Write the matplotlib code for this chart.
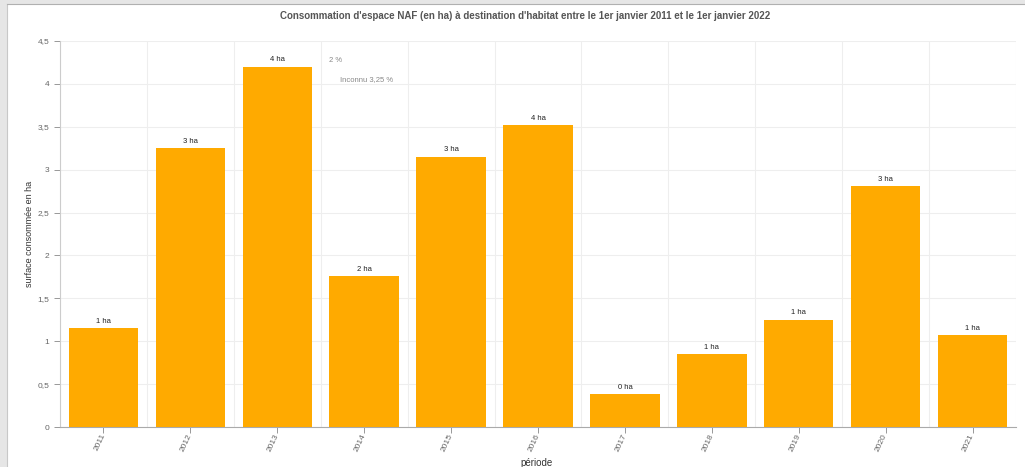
import matplotlib
matplotlib.use("Agg")
import matplotlib.pyplot as plt
from matplotlib.patches import Rectangle
import numpy as np

plt.rcParams['font.family'] = ['Liberation Sans', 'DejaVu Sans']

# data
years = ['2011', '2012', '2013', '2014', '2015', '2016', '2017', '2018', '2019', '2020', '2021']
surface = [1.15, 3.25, 4.20, 1.76, 3.15, 3.52, 0.385, 0.85, 1.25, 2.81, 1.07]
bar_labels = ['1 ha', '3 ha', '4 ha', '2 ha', '3 ha', '4 ha', '0 ha', '1 ha', '1 ha', '3 ha', '1 ha']
y_ticks = [0, 0.5, 1, 1.5, 2, 2.5, 3, 3.5, 4, 4.5]
y_tick_labels = ['0', '0,5', '1', '1,5', '2', '2,5', '3', '3,5', '4', '4,5']

fig = plt.figure(figsize=(10.25, 4.67), dpi=100)
fig.patch.set_facecolor('white')

# grey frame of the screenshot
fig.patches.append(Rectangle((0, 0), 7 / 1025, 1, transform=fig.transFigure,
                             facecolor='#e6e6e6', edgecolor='none', zorder=0))
fig.patches.append(Rectangle((0, 1 - 4 / 467), 1, 4 / 467, transform=fig.transFigure,
                             facecolor='#e6e6e6', edgecolor='none', zorder=0))
fig.add_artist(plt.Line2D([7 / 1025, 7 / 1025], [0, 1 - 4 / 467], transform=fig.transFigure,
                          color='#c8c8c8', lw=0.8))
fig.add_artist(plt.Line2D([7 / 1025, 1], [1 - 4 / 467, 1 - 4 / 467], transform=fig.transFigure,
                          color='#b0b0b0', lw=0.8))

ax = fig.add_axes([60 / 1025, 1 - 427 / 467, 956 / 1025, 386 / 467])
x = np.arange(len(years))
ax.bar(x, surface, width=0.8, color='#FFAA00', zorder=3)

for xi, v, lab in zip(x, surface, bar_labels):
    ax.text(xi, v + 0.04, lab, ha='center', va='bottom', fontsize=5.5, color='#222222', zorder=4)

ax.set_xlim(-0.5, len(years) - 0.5)
ax.set_ylim(0, 4.5)
ax.set_yticks(y_ticks)
ax.set_yticklabels(y_tick_labels)
ax.set_xticks(x)
ax.set_xticklabels(years, rotation=65, ha='right', va='center', rotation_mode='anchor')
ax.set_xticks(np.arange(-0.5, len(years)), minor=True)
ax.tick_params(axis='x', which='minor', length=0)
ax.tick_params(axis='both', which='major', labelsize=6, colors='#888888', length=4, width=0.6)
ax.tick_params(axis='x', which='major', pad=1)
for lab in ax.get_xticklabels() + ax.get_yticklabels():
    lab.set_color('#666666')

ax.grid(True, axis='y', color='#eeeeee', lw=0.8, zorder=0)
ax.grid(True, axis='x', which='minor', color='#eeeeee', lw=0.8, zorder=0)
for s in ['top', 'right']:
    ax.spines[s].set_visible(False)
ax.spines['left'].set_color('#cccccc')
ax.spines['bottom'].set_color('#aaaaaa')
ax.spines['left'].set_linewidth(0.8)
ax.spines['bottom'].set_linewidth(0.8)

fig.text(30 / 1025, 1 - 234 / 467, 'surface consommée en ha', fontsize=6.5, color='#333333',
         rotation=90, ha='center', va='center')
fig.text(537 / 1025, 1 - 463 / 467, 'période', fontsize=7, color='#333333', ha='center', va='center')

fig.text(525 / 1025, 1 - 16 / 467,
         "Consommation d'espace NAF (en ha) à destination d'habitat entre le 1er janvier 2011 et le 1er janvier 2022",
         fontsize=7, fontweight='bold', color='#555555', ha='center', va='center')

# stray tooltip texts
fig.text(329 / 1025, 1 - 60 / 467, '2 %', fontsize=5.5, color='#888888', ha='left', va='center')
fig.text(340 / 1025, 1 - 80 / 467, 'Inconnu 3,25 %', fontsize=5.5, color='#888888', ha='left', va='center')

fig.savefig('out.png', dpi=100)
